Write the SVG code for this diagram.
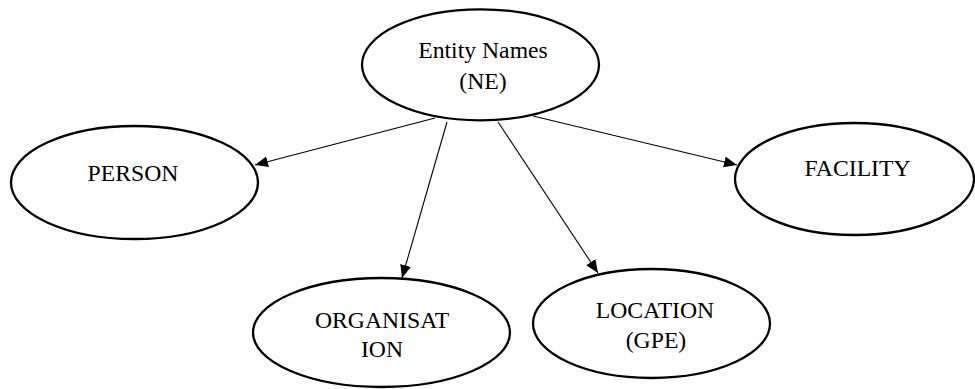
<svg xmlns="http://www.w3.org/2000/svg" width="975" height="389" viewBox="0 0 975 389">
  <style>
    .node ellipse { fill: #ffffff; stroke: #000000; stroke-width: 2.3; }
    .node text { font-family: "Liberation Serif", "Times New Roman", serif; font-size: 23.7px; fill: #000000; text-anchor: middle; }
    .edge { stroke: #000000; stroke-width: 1.1; fill: none; marker-end: url(#arrow); }
  </style>
  <defs>
    <marker id="arrow" markerUnits="userSpaceOnUse" markerWidth="14" markerHeight="12" refX="13" refY="5.5" orient="auto">
      <path d="M0,0 L13,5.5 L0,11 Z" fill="#000000"/>
    </marker>
  </defs>

  <rect width="975" height="389" fill="#ffffff"/>

  <!-- connectors from the root entity to each category -->
  <g id="connectors">
    <line class="edge" x1="435" y1="118" x2="255" y2="165"/>
    <line class="edge" x1="447" y1="122" x2="402" y2="278"/>
    <line class="edge" x1="498" y1="122" x2="598" y2="273"/>
    <line class="edge" x1="533" y1="116" x2="737" y2="165"/>
  </g>

  <g id="entity-names" class="node">
    <ellipse cx="480.5" cy="64.8" rx="118.5" ry="55.5"/>
    <text x="483" y="58">Entity Names</text>
    <text x="483" y="89">(NE)</text>
  </g>

  <g id="person" class="node">
    <ellipse cx="134.5" cy="182.5" rx="123.5" ry="56.5"/>
    <text x="133" y="181">PERSON</text>
  </g>

  <g id="facility" class="node">
    <ellipse cx="854.5" cy="179" rx="119.5" ry="56"/>
    <text x="857.5" y="176">FACILITY</text>
  </g>

  <g id="organisation" class="node">
    <ellipse cx="381.5" cy="332.5" rx="128.5" ry="54.5"/>
    <text x="382" y="328">ORGANISAT</text>
    <text x="382" y="357">ION</text>
  </g>

  <g id="location" class="node">
    <ellipse cx="651.5" cy="323.5" rx="118.5" ry="54.5"/>
    <text x="655" y="318">LOCATION</text>
    <text x="656" y="348">(GPE)</text>
  </g>
</svg>
